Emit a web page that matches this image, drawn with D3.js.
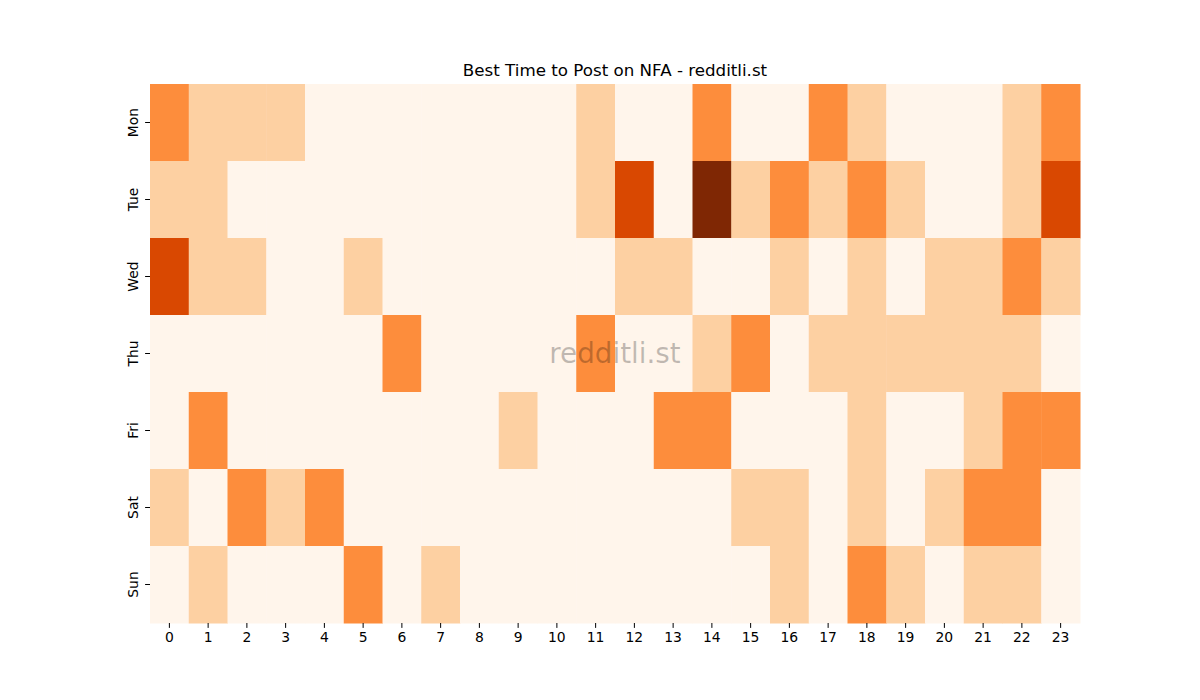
<!DOCTYPE html>
<html>
<head>
<meta charset="utf-8">
<script src="https://cdn.jsdelivr.net/npm/d3@7"></script>
<style>
  body { margin: 0; background: #fff; }
  text { font-family: "DejaVu Sans", sans-serif; }
</style>
</head>
<body>
<div id="chartholder"></div>
<script>
// days and hours
var days = ["Mon", "Tue", "Wed", "Thu", "Fri", "Sat", "Sun"];
var hours = d3.range(24);

// post score per hour, one row per day (0..4)
var mon = [2,1,1,1,0,0,0,0,0,0,0,1,0,0,2,0,0,2,1,0,0,0,1,2];
var tue = [1,1,0,0,0,0,0,0,0,0,0,1,3,0,4,1,2,1,2,1,0,0,1,3];
var wed = [3,1,1,0,0,1,0,0,0,0,0,0,1,1,0,0,1,0,1,0,1,1,2,1];
var thu = [0,0,0,0,0,0,2,0,0,0,0,2,0,0,1,2,0,1,1,1,1,1,1,0];
var fri = [0,2,0,0,0,0,0,0,0,1,0,0,0,2,2,0,0,0,1,0,0,1,2,2];
var sat = [1,0,2,1,2,0,0,0,0,0,0,0,0,0,0,1,1,0,1,0,1,2,2,0];
var sun = [0,1,0,0,0,2,0,1,0,0,0,0,0,0,0,0,1,0,2,1,0,1,1,0];
var rows = [mon, tue, wed, thu, fri, sat, sun];

var svg = d3.select("#chartholder")
  .append("svg")
  .attr("width", 1200)
  .attr("height", 700);

var margin = {top: 84, right: 120, bottom: 77, left: 150},
    width = 1200 - margin.left - margin.right,
    height = 700 - margin.top - margin.bottom;

var g = svg.append("g")
  .attr("transform", "translate(" + margin.left + "," + margin.top + ")");

var x = d3.scaleBand().domain(hours).range([0, width]);
var y = d3.scaleBand().domain(days).range([0, height]);
var color = d3.scaleLinear()
  .domain([0, 1, 2, 3, 4])
  .range(["#fff5eb", "#fdd0a2", "#fd8d3c", "#d94801", "#7f2704"]);

// flatten into cells
var cells = [];
rows.forEach(function(r, i) {
  r.forEach(function(v, h) { cells.push({day: days[i], hour: h, value: v}); });
});

g.selectAll(".cell")
  .data(cells)
  .enter().append("rect")
  .attr("class", "cell")
  .attr("x", function(d) { return x(d.hour); })
  .attr("y", function(d) { return y(d.day); })
  .attr("width", x.bandwidth() + 0.5)
  .attr("height", y.bandwidth() + 0.5)
  .attr("fill", function(d) { return color(d.value); });

// x axis
var xa = g.append("g")
  .attr("transform", "translate(0," + height + ")")
  .call(d3.axisBottom(x).tickSize(4.9).tickPadding(4.5));
xa.select(".domain").remove();
xa.selectAll("text").attr("font-size", "13.9px").attr("fill", "#000").attr("font-family", "DejaVu Sans");
xa.selectAll("line").attr("stroke", "#000").attr("stroke-width", 1);

// y axis
var ya = g.append("g")
  .call(d3.axisLeft(y).tickSize(4.9).tickPadding(4.5));
ya.select(".domain").remove();
ya.selectAll("line").attr("stroke", "#000").attr("stroke-width", 1);
ya.selectAll("text")
  .attr("font-size", "13.9px")
  .attr("fill", "#000")
  .attr("font-family", "DejaVu Sans")
  .attr("text-anchor", "middle")
  .attr("dy", null)
  .attr("x", null)
  .attr("transform", "translate(-12,0) rotate(-90)")
  .attr("dominant-baseline", "auto");

// title
svg.append("text")
  .attr("x", margin.left + width / 2)
  .attr("y", 76)
  .attr("text-anchor", "middle")
  .attr("font-size", "16.7px")
  .attr("fill", "#000")
  .text("Best Time to Post on NFA - redditli.st");

// watermark
svg.append("text")
  .attr("x", margin.left + width / 2)
  .attr("y", 363)
  .attr("text-anchor", "middle")
  .attr("font-size", "27.8px")
  .attr("fill", "#000")
  .attr("fill-opacity", 0.25)
  .text("redditli.st");
</script>
</body>
</html>
